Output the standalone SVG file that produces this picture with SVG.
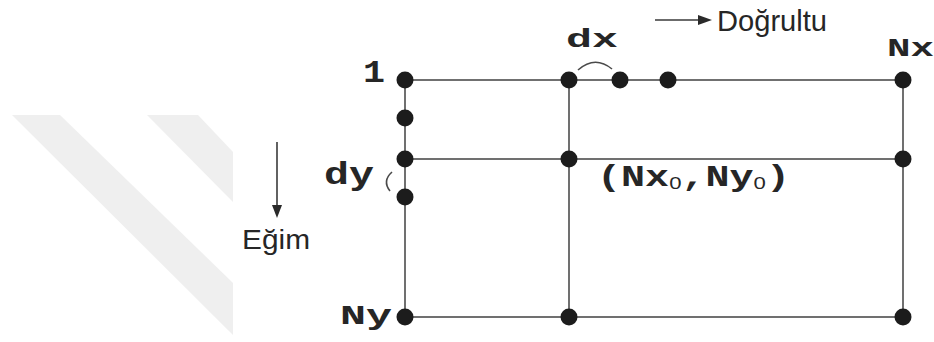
<svg xmlns="http://www.w3.org/2000/svg" width="934" height="342" viewBox="0 0 934 342">
  <style>
    .wm { fill: #efefef; }
    .grid { stroke: #707070; stroke-width: 2; fill: none; }
    .dot { fill: #1c1c1c; }
    .arc { stroke: #4a4a4a; stroke-width: 1.6; fill: none; }
    .arr { stroke: #3a3a3a; stroke-width: 1.6; fill: none; }
    .head { fill: #2a2a2a; }
    .mono { font-family: "Liberation Mono", "DejaVu Sans Mono", monospace; font-weight: bold; fill: #262626; }
    .sub { font-family: "Liberation Sans", Arial, sans-serif; font-weight: normal; }
    .sans { font-family: "Liberation Sans", Arial, sans-serif; fill: #262626; }
  </style>
  <rect width="934" height="342" fill="#ffffff"/>
  <g id="watermark">
    <polygon class="wm" points="12,115 60,115 233,283 233,335"/>
    <polygon class="wm" points="147,115 198,115 233,152 233,202"/>
  </g>
  <g id="connectors">
    <line class="grid" x1="405" y1="80" x2="903" y2="80"/>
    <line class="grid" x1="405" y1="159" x2="903" y2="159"/>
    <line class="grid" x1="405" y1="317" x2="903" y2="317"/>
    <line class="grid" x1="405" y1="80" x2="405" y2="317"/>
    <line class="grid" x1="569" y1="80" x2="569" y2="317"/>
    <line class="grid" x1="903" y1="80" x2="903" y2="317"/>
    <path class="arc" d="M578,70 Q595,55 612,69"/>
    <path class="arc" d="M392,172 Q382,181 390,191"/>
  </g>
  <g id="nodes">
    <g id="n-1-1"><circle class="dot" cx="405" cy="80" r="8.5"/></g>
    <g id="n-1-2"><circle class="dot" cx="405" cy="118" r="8.5"/></g>
    <g id="n-1-3"><circle class="dot" cx="405" cy="159" r="8.5"/></g>
    <g id="n-1-4"><circle class="dot" cx="405" cy="197" r="8.5"/></g>
    <g id="n-1-ny"><circle class="dot" cx="405" cy="317" r="8.5"/></g>
    <g id="n-2-1"><circle class="dot" cx="569" cy="80" r="8.5"/></g>
    <g id="n-3-1"><circle class="dot" cx="620" cy="80" r="8.5"/></g>
    <g id="n-4-1"><circle class="dot" cx="668" cy="80" r="8.5"/></g>
    <g id="n-nx-1"><circle class="dot" cx="903" cy="80" r="8.5"/></g>
    <g id="n-nx0-ny0"><circle class="dot" cx="569" cy="159" r="8.5"/></g>
    <g id="n-nx-3"><circle class="dot" cx="903" cy="159" r="8.5"/></g>
    <g id="n-2-ny"><circle class="dot" cx="569" cy="317" r="8.5"/></g>
    <g id="n-nx-ny"><circle class="dot" cx="903" cy="317" r="8.5"/></g>
  </g>
  <g id="labels">
    <text class="mono" x="363" y="82" font-size="31" textLength="22" lengthAdjust="spacingAndGlyphs">1</text>
    <text class="mono" x="566" y="47" font-size="25" textLength="52" lengthAdjust="spacingAndGlyphs">dx</text>
    <text class="mono" x="887" y="56" font-size="26" textLength="47" lengthAdjust="spacingAndGlyphs">Nx</text>
    <text class="mono" x="324" y="184" font-size="32" textLength="50" lengthAdjust="spacingAndGlyphs">dy</text>
    <text class="mono" x="340" y="324" font-size="27" textLength="52" lengthAdjust="spacingAndGlyphs">Ny</text>
    <text class="mono" x="597" y="186" font-size="29" textLength="193" lengthAdjust="spacingAndGlyphs">(Nx<tspan class="sub" font-size="16" dy="3">0</tspan><tspan dy="-3">,Ny</tspan><tspan class="sub" font-size="16" dy="3">0</tspan><tspan dy="-3">)</tspan></text>
  </g>
  <g id="direction">
    <line class="arr" x1="655" y1="20" x2="700" y2="20"/>
    <polygon class="head" points="698,15 712,20 698,25"/>
    <text class="sans" x="717" y="31" font-size="30" textLength="110" lengthAdjust="spacingAndGlyphs">Doğrultu</text>
  </g>
  <g id="slope">
    <line class="arr" x1="277" y1="142" x2="277" y2="207"/>
    <polygon class="head" points="272,205 282,205 277,218"/>
    <text class="sans" x="242" y="249" font-size="27" textLength="68" lengthAdjust="spacingAndGlyphs">Eğim</text>
  </g>
</svg>
